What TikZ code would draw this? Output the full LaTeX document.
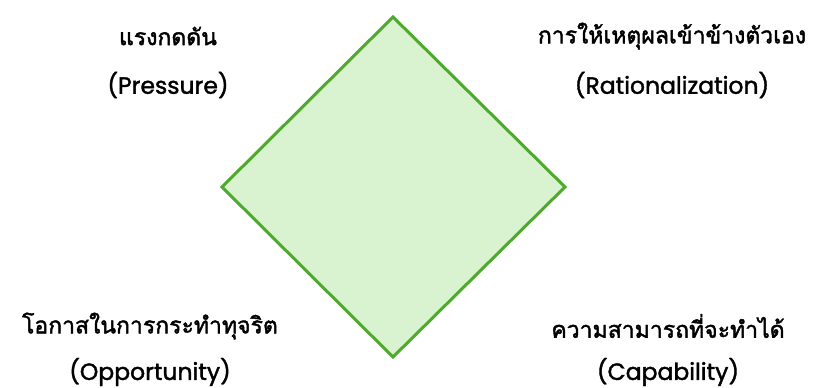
\documentclass[tikz,border=0pt]{standalone}
\usepackage{fontspec}
\setmainfont{Loma}[Script=Thai]
\newfontfamily\thaifont{Loma}[Script=Thai, FakeBold=1.8]
\newfontfamily\latinfont{Poppins}[FakeBold=1.6]
\definecolor{edgegreen}{RGB}{78,170,44}
\definecolor{fillgreen}{RGB}{217,242,208}
\begin{document}
\begin{tikzpicture}[x=1pt,y=-1pt,
  thlbl/.style={font=\thaifont\fontsize{23}{27}\selectfont, text=black, inner sep=0pt, anchor=center},
  enlbl/.style={font=\latinfont\fontsize{23.5}{27}\selectfont, text=black, inner sep=0pt, anchor=center}]
\useasboundingbox (0,0) rectangle (814,388);
\coordinate (T) at (393,17);
\coordinate (R) at (565,187);
\coordinate (B) at (393,357);
\coordinate (L) at (222,187);
\draw[edgegreen, line width=3pt, fill=fillgreen, line join=miter] (T) -- (R) -- (B) -- (L) -- cycle;
\node[thlbl] (p1) at (168,36) {แรงกดดัน};
\node[enlbl] (p2) at (168,85) {(Pressure)};
\node[thlbl] (r1) at (672,36) {การให้เหตุผลเข้าข้างตัวเอง};
\node[enlbl] (r2) at (672,85) {(Rationalization)};
\node[thlbl] (o1) at (150,326) {โอกาสในการกระทำทุจริต};
\node[enlbl] (o2) at (150,372) {(Opportunity)};
\node[thlbl] (c1) at (668,326) {ความสามารถที่จะทำได้};
\node[enlbl] (c2) at (668,372) {(Capability)};
\end{tikzpicture}
\end{document}
